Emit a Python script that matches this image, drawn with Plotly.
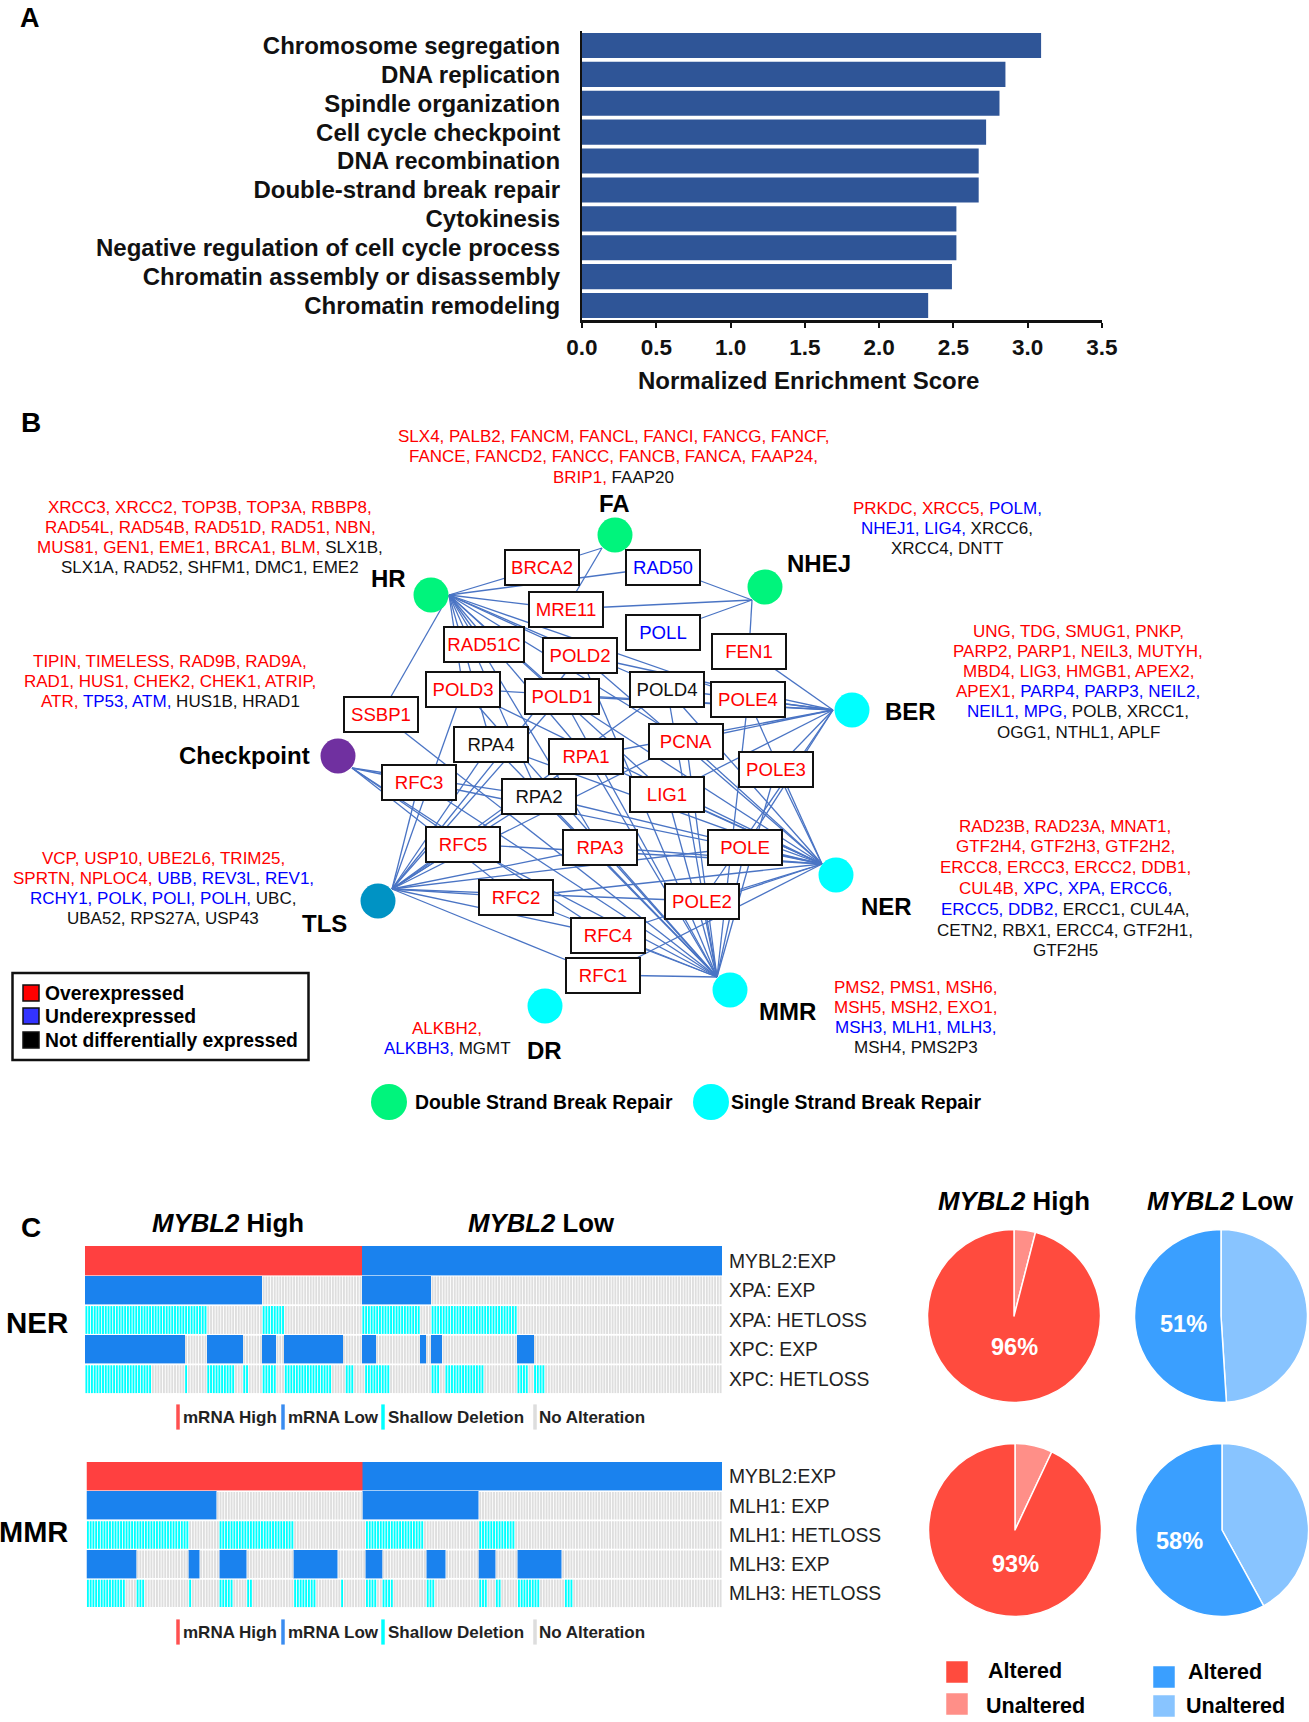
import numpy as np
import plotly.graph_objects as go

W, H = 1309, 1722
FONT = "Liberation Sans"

# ---------- Panel A data
TERMS = ["Chromosome segregation", "DNA replication", "Spindle organization", "Cell cycle checkpoint",
         "DNA recombination", "Double-strand break repair", "Cytokinesis",
         "Negative regulation of cell cycle process", "Chromatin assembly or disassembly", "Chromatin remodeling"]
NES = [3.09, 2.85, 2.81, 2.72, 2.67, 2.67, 2.52, 2.52, 2.49, 2.33]
NES_TICKS = [0, 0.5, 1, 1.5, 2, 2.5, 3, 3.5]

# ---------- Panel B data
GENES = ["BRCA2", "RAD50", "MRE11", "POLL", "FEN1", "RAD51C", "POLD2", "POLD3", "POLD1", "POLD4", "POLE4", "SSBP1",
         "RPA4", "PCNA", "RPA1", "POLE3", "RFC3", "RPA2", "LIG1", "RFC5", "RPA3", "POLE", "RFC2", "POLE2", "RFC4", "RFC1"]
GENE_X = [542, 663, 566, 663, 749, 484, 580, 463, 562, 667, 748, 381,
          491, 686, 586, 776, 419, 539, 667, 463, 600, 745, 516, 702, 608, 603]
GENE_Y = [567, 567, 609, 632, 651, 644, 655, 689, 696, 689, 699, 714,
          744, 741, 756, 769, 782, 796, 794, 844, 847, 847, 897, 901, 935, 975]
GENE_CLASS = ["r", "b", "r", "b", "r", "r", "r", "r", "r", "k", "r", "r",
              "k", "r", "r", "r", "r", "k", "r", "r", "r", "r", "r", "r", "r", "r"]
HUBS = ["FA", "NHEJ", "HR", "BER", "Checkpoint", "NER", "TLS", "MMR", "DR"]
HUB_X = [615, 765, 431, 852, 338, 836, 378, 730, 545]
HUB_Y = [535, 587, 595, 710, 756, 875, 901, 990, 1006]
HUB_ANCHOR_X = [602, 752, 449, 833, 352, 822, 392, 717, 545]
HUB_ANCHOR_Y = [548, 600, 595, 710, 768, 864, 889, 977, 1006]
HUB_COLOR = ["#00f47c", "#00f47c", "#00f47c", "#00ffff", "#7030a0", "#00ffff", "#0093c4", "#00ffff", "#00ffff"]
HUB_LABEL_X = [614, 819, 388, 910, 244, 886, 324, 787, 544]
HUB_LABEL_Y = [503, 563, 578, 711, 755, 906, 923, 1011, 1050]
EDGES = {
    "FA": ["BRCA2", "MRE11"],
    "NHEJ": ["RAD50", "MRE11", "POLL", "FEN1"],
    "HR": ["BRCA2", "RAD50", "MRE11", "RAD51C", "POLD2", "POLD3", "POLD1", "POLD4", "RPA1", "RPA2", "RPA3", "RPA4",
           "SSBP1", "POLE4", "PCNA", "LIG1"],
    "BER": ["FEN1", "POLE4", "POLD4", "POLD1", "POLD2", "PCNA", "POLE3", "POLE", "LIG1", "POLE2", "RPA1", "POLD3"],
    "NER": ["POLE", "POLE2", "POLE3", "POLE4", "POLD1", "POLD2", "POLD3", "POLD4", "PCNA", "LIG1", "RPA1", "RPA2",
            "RPA3", "RPA4", "RFC1", "RFC2", "RFC3", "RFC4", "RFC5"],
    "MMR": ["RPA1", "RPA2", "RPA3", "RPA4", "RFC1", "RFC2", "RFC3", "RFC4", "RFC5", "POLD1", "POLD2", "POLD3", "POLD4",
            "PCNA", "LIG1", "POLE", "POLE2", "POLE3", "POLE4", "SSBP1"],
    "TLS": ["RFC1", "RFC2", "RFC3", "RFC4", "RFC5", "RPA1", "RPA2", "RPA3", "RPA4", "PCNA", "POLD1", "POLD2", "POLD3",
            "POLD4", "POLE", "POLE2"],
    "Checkpoint": ["RFC3", "RFC5", "RFC2", "RFC4", "RPA2"],
}
TXT = {"r": "#ff0000", "b": "#0000ff", "k": "#111111"}
BLOCKS = [
    (613, 436.5, 20.4, [[("SLX4, PALB2, FANCM, FANCL, FANCI, FANCG, FANCF,", "r")],
                        [("FANCE, FANCD2, FANCC, FANCB, FANCA, FAAP24,", "r")],
                        [("BRIP1,", "r"), (" FAAP20", "k")]]),
    (210, 507, 20.3, [[("XRCC3, XRCC2, TOP3B, TOP3A, RBBP8,", "r")],
                      [("RAD54L, RAD54B, RAD51D, RAD51, NBN,", "r")],
                      [("MUS81, GEN1, EME1, BRCA1, BLM,", "r"), (" SLX1B,", "k")],
                      [("SLX1A, RAD52, SHFM1, DMC1, EME2", "k")]]),
    (947, 508, 20.3, [[("PRKDC, XRCC5,", "r"), (" POLM,", "b")],
                      [("NHEJ1, LIG4,", "b"), (" XRCC6,", "k")],
                      [("XRCC4, DNTT", "k")]]),
    (170, 661, 20.3, [[("TIPIN, TIMELESS, RAD9B, RAD9A,", "r")],
                      [("RAD1, HUS1, CHEK2, CHEK1, ATRIP,", "r")],
                      [("ATR,", "r"), (" TP53, ATM,", "b"), (" HUS1B, HRAD1", "k")]]),
    (1078, 631, 20.2, [[("UNG, TDG, SMUG1, PNKP,", "r")],
                       [("PARP2, PARP1, NEIL3, MUTYH,", "r")],
                       [("MBD4, LIG3, HMGB1, APEX2,", "r")],
                       [("APEX1,", "r"), (" PARP4, PARP3, NEIL2,", "b")],
                       [("NEIL1, MPG,", "b"), (" POLB, XRCC1,", "k")],
                       [("OGG1, NTHL1, APLF", "k")]]),
    (1065, 826, 20.8, [[("RAD23B, RAD23A, MNAT1,", "r")],
                       [("GTF2H4, GTF2H3, GTF2H2,", "r")],
                       [("ERCC8, ERCC3, ERCC2, DDB1,", "r")],
                       [("CUL4B,", "r"), (" XPC, XPA, ERCC6,", "b")],
                       [("ERCC5, DDB2,", "b"), (" ERCC1, CUL4A,", "k")],
                       [("CETN2, RBX1, ERCC4, GTF2H1,", "k")],
                       [("GTF2H5", "k")]]),
    (163, 858, 20.3, [[("VCP, USP10, UBE2L6, TRIM25,", "r")],
                      [("SPRTN, NPLOC4,", "r"), (" UBB, REV3L, REV1,", "b")],
                      [("RCHY1, POLK, POLI, POLH,", "b"), (" UBC,", "k")],
                      [("UBA52, RPS27A, USP43", "k")]]),
    (447, 1028, 20.3, [[("ALKBH2,", "r")],
                       [("ALKBH3,", "b"), (" MGMT", "k")]]),
    (915.5, 987, 20.3, [[("PMS2, PMS1, MSH6,", "r")],
                        [("MSH5, MSH2, EXO1,", "r")],
                        [("MSH3, MLH1, MLH3,", "b")],
                        [("MSH4, PMS2P3", "k")]]),
]

# ---------- Panel C data (column runs read from the tracks)
N_SAMPLES = 230
NER_ROWS = ["MYBL2:EXP", "XPA: EXP", "XPA: HETLOSS", "XPC: EXP", "XPC: HETLOSS"]
NER_RUNS = [
    [(0, 100), (100, 230)],
    [(0, 64), (100, 125)],
    [(0, 44), (64, 72), (100, 121), (125, 156)],
    [(0, 36), (44, 57), (64, 69), (72, 93), (100, 105), (121, 123), (125, 129), (156, 162)],
    [(0, 24), (36, 37), (44, 54), (57, 59), (64, 69), (72, 89), (94, 97), (101, 110), (125, 128), (130, 144),
     (156, 160), (162, 166)],
]
MMR_ROWS = ["MYBL2:EXP", "MLH1: EXP", "MLH1: HETLOSS", "MLH3: EXP", "MLH3: HETLOSS"]
MMR_RUNS = [
    [(0, 100), (100, 230)],
    [(0, 47), (100, 142)],
    [(0, 37), (48, 75), (101, 122), (142, 155)],
    [(0, 18), (37, 41), (48, 58), (75, 91), (101, 107), (123, 130), (142, 148), (156, 172)],
    [(0, 14), (18, 21), (37, 38), (48, 53), (58, 60), (75, 83), (92, 93), (101, 105), (107, 111), (123, 126),
     (142, 145), (148, 150), (156, 164), (173, 176)],
]
PIE_LABELS = ["Unaltered", "Altered"]
PIE_HIGH_NER = [4, 96]
PIE_LOW_NER = [49, 51]
PIE_HIGH_MMR = [7, 93]
PIE_LOW_MMR = [42, 58]

# ---------- helpers
def px_x(a, b):
    return [a / W, b / W]
def px_y(top, bottom):
    return [1 - bottom / H, 1 - top / H]

fig = go.Figure()
annots = []
def label(x, y, text, size, color="#000000", bold=False, anchor="center", **kw):
    t = f"<b>{text}</b>" if bold else text
    annots.append(dict(x=x, y=y, xref="x2", yref="y2", text=t, showarrow=False, xanchor=anchor, yanchor="middle",
                       font=dict(family=FONT, size=size, color=color), **kw))

# Panel A
fig.add_trace(go.Bar(x=NES, y=TERMS, orientation="h", marker=dict(color="#2f5597", line=dict(width=0)), width=0.87,
                     xaxis="x", yaxis="y", hoverinfo="skip", showlegend=False))
label(808, 380, "Normalized Enrichment Score", 24, color="#111111", bold=True)

# Panel B edges
gx = dict(zip(GENES, GENE_X)); gy = dict(zip(GENES, GENE_Y))
ax = dict(zip(HUBS, HUB_ANCHOR_X)); ay = dict(zip(HUBS, HUB_ANCHOR_Y))
ex, ey = [], []
for hub, targets in EDGES.items():
    for g in targets:
        ex += [ax[hub], gx[g], None]
        ey += [ay[hub], gy[g], None]
fig.add_trace(go.Scatter(x=ex, y=ey, mode="lines", line=dict(color="#4a74c4", width=1.3),
                         xaxis="x2", yaxis="y2", hoverinfo="skip", showlegend=False))
fig.add_trace(go.Scatter(x=HUB_X, y=HUB_Y, mode="markers", marker=dict(size=35, color=HUB_COLOR, line=dict(width=0)),
                         xaxis="x2", yaxis="y2", hoverinfo="skip", showlegend=False))
for g, x, y, c in zip(GENES, GENE_X, GENE_Y, GENE_CLASS):
    annots.append(dict(x=x, y=y, xref="x2", yref="y2", text=g, showarrow=False, xanchor="center", yanchor="middle",
                       width=78 if g == "RAD51C" else 72, height=33, bgcolor="white", bordercolor="#111111",
                       borderwidth=2, borderpad=0, font=dict(family=FONT, size=18.6, color=TXT[c])))
for h, x, y in zip(HUBS, HUB_LABEL_X, HUB_LABEL_Y):
    label(x, y, h, 24, bold=True)
for cx, y0, pitch, lines in BLOCKS:
    for i, segs in enumerate(lines):
        t = "".join(f'<span style="color:{TXT[c]}">{s}</span>' for s, c in segs)
        label(cx, y0 + i * pitch, t, 17)

# Panel B legends
fig.add_trace(go.Scatter(x=[31, 31, 31], y=[993, 1016, 1040], mode="markers",
                         marker=dict(symbol="square", size=16, color=["#ff0000", "#3333ff", "#000000"],
                                     line=dict(color="#111111", width=1.5)),
                         xaxis="x2", yaxis="y2", hoverinfo="skip", showlegend=False))
fig.add_trace(go.Scatter(x=[389, 711], y=[1102, 1102], mode="markers",
                         marker=dict(size=36, color=["#00f47c", "#00ffff"], line=dict(width=0)),
                         xaxis="x2", yaxis="y2", hoverinfo="skip", showlegend=False))
for y, t in zip([993, 1016.5, 1040], ["Overexpressed", "Underexpressed", "Not differentially expressed"]):
    label(43, y, t, 19.3, bold=True, anchor="left")
label(413, 1102, "Double Strand Break Repair", 19.4, bold=True, anchor="left")
label(729, 1102, "Single Strand Break Repair", 19.4, bold=True, anchor="left")

# Panel C oncoprints: striped cells as thin bars, solid mRNA cells as a heatmap
GREY, CYAN = "#dedede", "#00ffff"
CS = [[0, "#ff4040"], [0.5, "#ff4040"], [0.5, "#1a82ee"], [1, "#1a82ee"]]
def onco(runs, xa, ya):
    top = np.full((5, N_SAMPLES), np.nan)
    top[0, runs[0][0][0]:runs[0][0][1]] = 0
    top[0, runs[0][1][0]:runs[0][1][1]] = 1
    for r in (1, 3):
        for (a, b) in runs[r]:
            top[r, a:b] = 1
    for r in (1, 2, 3, 4):
        colors = [GREY] * N_SAMPLES
        if r in (2, 4):
            for (a, b) in runs[r]:
                colors[a:b] = [CYAN] * (b - a)
        cols = [c for c in range(N_SAMPLES) if np.isnan(top[r, c])]
        fig.add_trace(go.Bar(x=cols, y=[0.94] * len(cols), base=[r - 0.47] * len(cols), width=0.68,
                             marker=dict(color=[colors[c] for c in cols], line=dict(width=0)), xaxis=xa, yaxis=ya,
                             hoverinfo="skip", showlegend=False))
    fig.add_trace(go.Heatmap(z=top, colorscale=CS, zmin=0, zmax=1, showscale=False, ygap=0.6,
                             xaxis=xa, yaxis=ya, hoverinfo="skip"))
onco(NER_RUNS, "x3", "y3")
onco(MMR_RUNS, "x4", "y4")

for y0 in (1417, 1632):
    for x, c in zip([178, 283, 383, 535], ["#ff5050", "#3a8cf0", "#00ffff", "#dddddd"]):
        fig.add_trace(go.Scatter(x=[x], y=[y0], mode="markers", xaxis="x2", yaxis="y2", hoverinfo="skip",
                                 showlegend=False,
                                 marker=dict(symbol="line-ns", size=18, line=dict(color=c, width=3.5))))
    for x, t in zip([180.5, 286, 386, 536.5], ["mRNA High", "mRNA Low", "Shallow Deletion", "No Alteration"]):
        label(x, y0, t, 17, bold=True, anchor="left", color="#222222")

label(228, 1223, "<i>MYBL2</i> High", 25.8, bold=True)
label(541, 1223, "<i>MYBL2</i> Low", 25.8, bold=True)
label(1014, 1201, "<i>MYBL2</i> High", 25.8, bold=True)
label(1220, 1201, "<i>MYBL2</i> Low", 25.8, bold=True)
label(37, 1322, "NER", 29.5, bold=True)
label(33, 1532, "MMR", 29, bold=True)
label(30, 18, "A", 27, bold=True)
label(31, 422, "B", 28, bold=True)
label(31, 1227, "C", 28, bold=True)

# Panel C pies
def pie(vals, cx, cy, colors):
    r = 86.5
    fig.add_trace(go.Pie(values=vals, labels=PIE_LABELS, sort=False, direction="clockwise", rotation=0, textinfo="none",
                         marker=dict(colors=colors, line=dict(color="white", width=1.5)), hoverinfo="skip",
                         showlegend=False, domain=dict(x=px_x(cx - r, cx + r), y=px_y(cy - r, cy + r))))
REDS = ["#ff8f88", "#ff4b3e"]
BLUES = ["#88c4ff", "#3a9fff"]
pie(PIE_HIGH_NER, 1014, 1316, REDS)
pie(PIE_LOW_NER, 1221, 1316, BLUES)
pie(PIE_HIGH_MMR, 1015, 1530, REDS)
pie(PIE_LOW_MMR, 1222, 1530, BLUES)
for x, y, v in [(1014, 1347, PIE_HIGH_NER), (1183, 1324, PIE_LOW_NER), (1015, 1564, PIE_HIGH_MMR), (1179, 1541, PIE_LOW_MMR)]:
    label(x, y, f"{v[1]}%", 23.5, color="white", bold=True)
fig.add_trace(go.Scatter(x=[957, 957, 1164, 1164], y=[1672, 1704, 1677, 1706], mode="markers",
                         marker=dict(symbol="square", size=21.5, color=[REDS[1], REDS[0], BLUES[1], BLUES[0]], line=dict(width=0)),
                         xaxis="x2", yaxis="y2", hoverinfo="skip", showlegend=False))
label(1025, 1671, "Altered", 21.5, bold=True)
label(1035, 1706, "Unaltered", 21.5, bold=True)
label(1225, 1672, "Altered", 21.5, bold=True)
label(1235, 1706, "Unaltered", 21.5, bold=True)

hidden = dict(visible=False, showgrid=False, zeroline=False, automargin=False)
oncoy = dict(tickvals=[0, 1, 2, 3, 4], range=[4.5, -0.5], side="right", showline=False, showgrid=False, zeroline=False,
             automargin=False, ticks="", ticklabelstandoff=6, tickfont=dict(family=FONT, size=19.3, color="#222222"))
fig.update_layout(
    template="none", width=W, height=H, margin=dict(l=0, r=0, t=0, b=0, pad=0, autoexpand=False),
    paper_bgcolor="white", plot_bgcolor="rgba(0,0,0,0)",
    annotations=annots, barmode="overlay",
    shapes=[dict(type="rect", xref="x2", yref="y2", x0=12.5, x1=308.5, y0=973, y1=1060, line=dict(color="#111111", width=2.5))],
    xaxis=dict(domain=px_x(582, 1102), range=[0, 3.5], tickvals=NES_TICKS, tickformat=".1f", anchor="y", automargin=False,
               showline=True, linecolor="#111111", linewidth=3, ticks="outside", ticklen=5, tickwidth=2, tickcolor="#111111",
               showgrid=False, zeroline=False, tickfont=dict(family=FONT, size=22.5, color="#111111", weight="bold")),
    yaxis=dict(domain=px_y(31, 320), autorange="reversed", anchor="x", automargin=False, showline=True, linecolor="#111111", linewidth=2,
               ticks="", ticklabelstandoff=15, showgrid=False, zeroline=False, tickmode="array", tickvals=TERMS, ticktext=TERMS,
               tickfont=dict(family=FONT, size=24, color="#111111", weight="bold")),
    xaxis2=dict(domain=[0, 1], range=[0, W], anchor="y2", **hidden),
    yaxis2=dict(domain=[0, 1], range=[H, 0], anchor="x2", **hidden),
    xaxis3=dict(domain=px_x(85, 722), range=[-0.5, N_SAMPLES - 0.5], anchor="y3", **hidden),
    yaxis3=dict(domain=px_y(1246, 1394), anchor="x3", ticktext=NER_ROWS, **oncoy),
    xaxis4=dict(domain=px_x(86.5, 722), range=[-0.5, N_SAMPLES - 0.5], anchor="y4", **hidden),
    yaxis4=dict(domain=px_y(1462, 1608), anchor="x4", ticktext=MMR_ROWS, **oncoy),
)
fig.write_html("out.html", config=dict(staticPlot=True),
               post_script="document.body.style.margin='0';document.documentElement.style.overflow='hidden';")
